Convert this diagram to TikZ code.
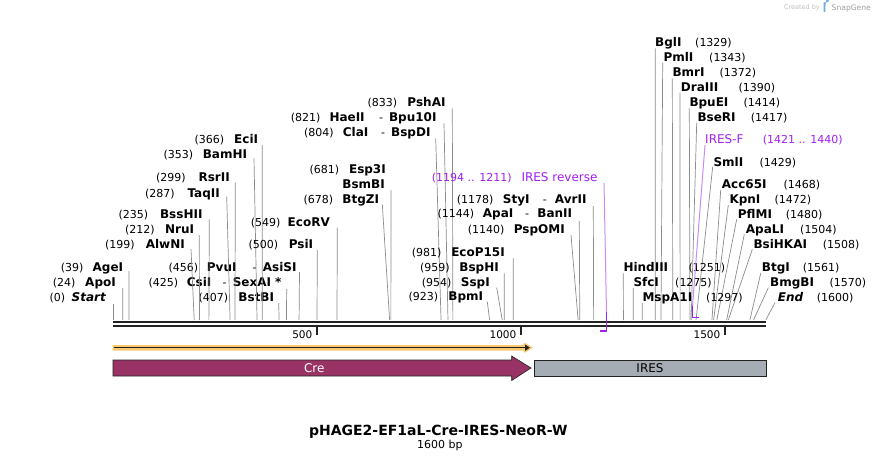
\documentclass[tikz,border=0pt]{standalone}
\usepackage{fontspec}
\setmainfont{DejaVu Sans}
\usetikzlibrary{arrows.meta}
\definecolor{bb}{RGB}{34,34,34}
\definecolor{siteg}{RGB}{140,140,140}
\definecolor{prim}{RGB}{160,32,240}
\definecolor{primlight}{RGB}{200,140,250}
\definecolor{creC}{RGB}{153,51,102}
\definecolor{iresC}{RGB}{166,172,179}
\definecolor{orglow}{RGB}{250,200,110}
\definecolor{sgblue}{RGB}{110,175,235}
\tikzset{
 namef/.style={inner sep=0pt, font=\fontsize{12}{14}\selectfont\bfseries},
 numf/.style={inner sep=0pt, font=\fontsize{11}{13}\selectfont},
 dashf/.style={inner sep=0pt, font=\fontsize{11}{13}\selectfont},
 primf/.style={inner sep=0pt, text=prim, font=\fontsize{11}{13}\selectfont},
 primnamef/.style={inner sep=0pt, text=prim, font=\fontsize{12}{14}\selectfont},
 siteline/.style={draw=siteg, line width=0.7pt},
 bbline/.style={draw=bb, line width=2.4pt},
 tickline/.style={draw=bb, line width=1.5pt},
 tickf/.style={inner sep=0pt, font=\fontsize{10.5}{12}\selectfont},
}
% id, ycenter, name right x, number left x, number, name, line start x, line start y, site
\newcommand\LSite[9]{%
  \node[namef,anchor=base east] (n#1) at (#3,{#2+4.3}) {#6};
  \node[numf,anchor=base west] (p#1) at (#4,{#2+4.3}) {#5};
  \coordinate (a#1) at (#7,#8);
  \coordinate (s#1) at ({113+0.408*#9},320);
  \draw[siteline] (a#1) -- (s#1);
}
% id, ycenter, name left x, number left x, number, name, line start x, line start y, site
\newcommand\RSite[9]{%
  \node[namef,anchor=base west] (n#1) at (#3,{#2+4.3}) {#6};
  \node[numf,anchor=base west] (p#1) at (#4,{#2+4.3}) {#5};
  \coordinate (a#1) at (#7,#8);
  \coordinate (s#1) at ({113+0.408*#9},320);
  \draw[siteline] (a#1) -- (s#1);
}
\begin{document}
\begin{tikzpicture}[x=1pt,y=-1pt]
\useasboundingbox (0,0) rectangle (880,460);
\fill[white] (0,0) rectangle (880,460);

% backbone
\coordinate (bbL1) at (113,322.2);
\coordinate (bbR1) at (766,322.2);
\coordinate (bbL2) at (113,326.2);
\coordinate (bbR2) at (766,326.2);
\draw[bbline] (bbL1) -- (bbR1);
\draw[bbline] (bbL2) -- (bbR2);

% ticks
\foreach \p/\lab in {500/500,1000/1000,1500/1500}{
  \coordinate (t\p a) at ({113+0.408*\p},327);
  \coordinate (t\p b) at ({113+0.408*\p},335);
  \draw[tickline] (t\p a) -- (t\p b);
  \node[tickf,anchor=base east] (tl\p) at ({113+0.408*\p-4.5},338.5) {\lab};
}

% left-side sites
\LSite{AgeI}{267.3}{123.3}{60.7}{(39)}{AgeI}{129}{271}{39}
\LSite{ApoI}{282.3}{116}{52.7}{(24)}{ApoI}{122.7}{288}{24}
\LSite{Start}{296.7}{106}{49.3}{(0)}{\itshape Start}{113}{304}{0}
\LSite{AsiSI}{267.3}{296.7}{168.3}{(456)}{AsiSI}{299.5}{272}{456}
\node[namef,anchor=base west] (mPvuI) at (206.7,271.6) {PvuI};
\node[dashf,anchor=base west] (dPvuI) at (252.5,271.6) {-};
\LSite{SexAI}{282.3}{281.7}{148.3}{(425)}{SexAI *}{286.7}{289}{425}
\node[namef,anchor=base west] (mCsiI) at (186.7,286.6) {CsiI};
\node[dashf,anchor=base west] (dCsiI) at (222.3,286.6) {-};
\LSite{BstBI}{296.7}{274.3}{198.3}{(407)}{BstBI}{278.7}{303}{407}
\LSite{EciI}{139.3}{258.3}{194.3}{(366)}{EciI}{262.3}{145}{366}
\LSite{BamHI}{154}{247.3}{163.3}{(353)}{BamHI}{254}{158.3}{353}
\LSite{RsrII}{177.3}{230}{156}{(299)}{RsrII}{235.3}{182.7}{299}
\LSite{TaqII}{192.7}{220}{145}{(287)}{TaqII}{226.7}{196.7}{287}
\LSite{BssHII}{214.3}{202.7}{118.3}{(235)}{BssHII}{209.3}{219.3}{235}
\LSite{NruI}{229.3}{194.3}{125}{(212)}{NruI}{199.3}{235}{212}
\LSite{AlwNI}{244}{185}{105}{(199)}{AlwNI}{191}{249}{199}
\LSite{EcoRV}{221.7}{330}{250.7}{(549)}{EcoRV}{337.3}{227.7}{549}
\LSite{PsiI}{244}{313.3}{248.3}{(500)}{PsiI}{317.3}{250}{500}
\LSite{PshAI}{102.3}{445.7}{367.3}{(833)}{PshAI}{452.3}{108.3}{833}
\LSite{Bpu10I}{116.7}{436.7}{290.7}{(821)}{Bpu10I}{444}{123.3}{821}
\node[namef,anchor=base west] (mHaeII) at (329.3,121) {HaeII};
\node[dashf,anchor=base west] (dHaeII) at (379,121) {-};
\LSite{BspDI}{131.7}{430.7}{304}{(804)}{BspDI}{435.7}{138.3}{804}
\node[namef,anchor=base west] (mClaI) at (342.7,136) {ClaI};
\node[dashf,anchor=base west] (dClaI) at (381,136) {-};
\node[namef,anchor=base east] (nEspI) at (386,173.3) {Esp3I};
\node[numf,anchor=base west] (pEspI) at (309.3,173.3) {(681)};
\LSite{BsmBI}{184}{385}{340}{}{BsmBI}{391}{190}{681}
\LSite{BtgZI}{199}{379.3}{303.3}{(678)}{BtgZI}{382.3}{204.3}{678}
\LSite{EcoP15I}{252.3}{505}{411.7}{(981)}{EcoP15I}{513.3}{258.3}{981}
\LSite{BspHI}{266.7}{499}{420}{(959)}{BspHI}{504.3}{273.3}{959}
\LSite{SspI}{281.7}{490}{421.7}{(954)}{SspI}{496.7}{287.7}{954}
\LSite{BpmI}{296}{483.3}{408.3}{(923)}{BpmI}{487.3}{301.7}{923}
\LSite{AvrII}{199.3}{586.7}{456.7}{(1178)}{AvrII}{593.3}{206}{1178}
\node[namef,anchor=base west] (mStyI) at (502.7,203.6) {StyI};
\node[dashf,anchor=base west] (dStyI) at (542.7,203.6) {-};
\LSite{BanII}{213.3}{572.3}{437.3}{(1144)}{BanII}{579.3}{221}{1144}
\node[namef,anchor=base west] (mApaI) at (482.7,217.6) {ApaI};
\node[dashf,anchor=base west] (dApaI) at (525,217.6) {-};
\LSite{PspOMI}{229}{565}{467.7}{(1140)}{PspOMI}{571}{235}{1140}

% right-side sites
\RSite{BglI}{42.3}{655}{695}{(1329)}{BglI}{655.3}{48.3}{1329}
\RSite{PmlI}{57.3}{663.3}{709}{(1343)}{PmlI}{662.7}{62.7}{1343}
\RSite{BmrI}{72.3}{672.3}{719.3}{(1372)}{BmrI}{672.3}{78.3}{1372}
\RSite{DraIII}{87.3}{680.7}{738.3}{(1390)}{DraIII}{680}{92.7}{1390}
\RSite{BpuEI}{102.3}{689.3}{743.3}{(1414)}{BpuEI}{689.3}{108.3}{1414}
\RSite{BseRI}{117.3}{697.3}{750.7}{(1417)}{BseRI}{696.7}{122.7}{1417}
\RSite{SmlI}{161.7}{713.3}{759.3}{(1429)}{SmlI}{712.7}{166.7}{1429}
\RSite{Acc65I}{184.3}{721.7}{783.3}{(1468)}{Acc65I}{720.7}{190}{1468}
\RSite{KpnI}{199}{729.3}{774.3}{(1472)}{KpnI}{728.3}{205}{1472}
\RSite{PflMI}{213.7}{737.7}{785.7}{(1480)}{PflMI}{736.7}{219.3}{1480}
\RSite{ApaLI}{228.7}{745.7}{800}{(1504)}{ApaLI}{744.3}{234.3}{1504}
\RSite{BsiHKAI}{243.7}{753.3}{822.7}{(1508)}{BsiHKAI}{752.3}{249.3}{1508}
\RSite{BtgI}{267.3}{761.7}{802.7}{(1561)}{BtgI}{760.7}{273.3}{1561}
\RSite{BmgBI}{281.7}{770}{829.3}{(1570)}{BmgBI}{768.3}{287.7}{1570}
\RSite{End}{296.7}{777.7}{816.7}{(1600)}{\itshape End}{775}{302.7}{1600}
\RSite{HindIII}{267.3}{623.3}{688.3}{(1251)}{HindIII}{623.3}{273.3}{1251}
\RSite{SfcI}{281.7}{633.3}{675}{(1275)}{SfcI}{633.3}{288}{1275}
\RSite{MspAI}{296.7}{642.3}{706}{(1297)}{MspA1I}{642.3}{303}{1297}

% primers
\node[primf,anchor=base west] (pIRr) at (431.7,181) {(1194 .. 1211)};
\node[primnamef,anchor=base east] (nIRr) at (597.7,181) {IRES reverse};
\coordinate (aIRr) at (604,183);
\coordinate (bIRr) at (606.5,312);
\coordinate (cIRr) at (606.5,330.8);
\coordinate (dIRr) at (600,330.8);
\draw[primlight, line width=1pt] (aIRr) -- (bIRr);
\draw[prim, line width=1.5pt] (bIRr) -- (cIRr) -- (dIRr);

\node[primnamef,anchor=base west] (nIRf) at (705,143.3) {IRES-F};
\node[primf,anchor=base west] (pIRf) at (762.7,143.3) {(1421 .. 1440)};
\coordinate (aIRf) at (705,145);
\coordinate (bIRf) at (692.5,306);
\coordinate (cIRf) at (692.5,317.5);
\coordinate (dIRf) at (699,317.5);
\draw[primlight, line width=1pt] (aIRf) -- (bIRf);
\draw[prim, line width=1.5pt] (bIRf) -- (cIRf) -- (dIRf);

% orange ORF arrow
\fill[orglow, rounded corners=1pt] (112.5,345) -- (524,345) -- (524,342.3) -- (533,347.7) -- (524,353.1) -- (524,350.5) -- (112.5,350.5) -- cycle;
\coordinate (orfA) at (113.5,347.7);
\coordinate (orfB) at (530,347.7);
\draw[bb, line width=1.4pt, -{Triangle[length=5pt,width=6pt]}] (orfA) -- (orfB);

% Cre feature
\draw[bb, line width=0.6pt, fill=creC] (113,360) -- (511.7,360) -- (511.7,356) -- (531,368) -- (511.7,380.5) -- (511.7,376) -- (113,376) -- cycle;
\node[text=white, inner sep=0pt, font=\fontsize{12}{14}\selectfont] (creT) at (314.3,368) {Cre};

% IRES feature
\draw[bb, line width=0.6pt, fill=iresC] (534,360) rectangle (766.7,376.7);
\node[text=black, inner sep=0pt, font=\fontsize{12}{14}\selectfont] (iresT) at (650,368.3) {IRES};

% title
\node[inner sep=0pt, anchor=base, font=\fontsize{14}{16}\selectfont\bfseries] (title) at (438.3,435.1) {pHAGE2-EF1aL-Cre-IRES-NeoR-W};
\node[inner sep=0pt, anchor=base, font=\fontsize{11}{13}\selectfont] (bp) at (439.8,448) {1600 bp};

% created by
\node[inner sep=0pt, anchor=base east, text=gray!50, font=\fontsize{6.5}{8}\selectfont] (cby) at (820,9.5) {Created by};
\fill[sgblue] (823.5,2.5) -- (826.5,2.5) arc[start angle=90, end angle=-90, radius=2.5] -- (825.3,7.5) -- (825.3,12) -- (823.5,12) -- cycle;
\node[inner sep=0pt, anchor=base west, text=gray!75, font=\fontsize{7.6}{9}\selectfont] (sgn) at (831.5,10.2) {SnapGene};
\end{tikzpicture}
\end{document}
